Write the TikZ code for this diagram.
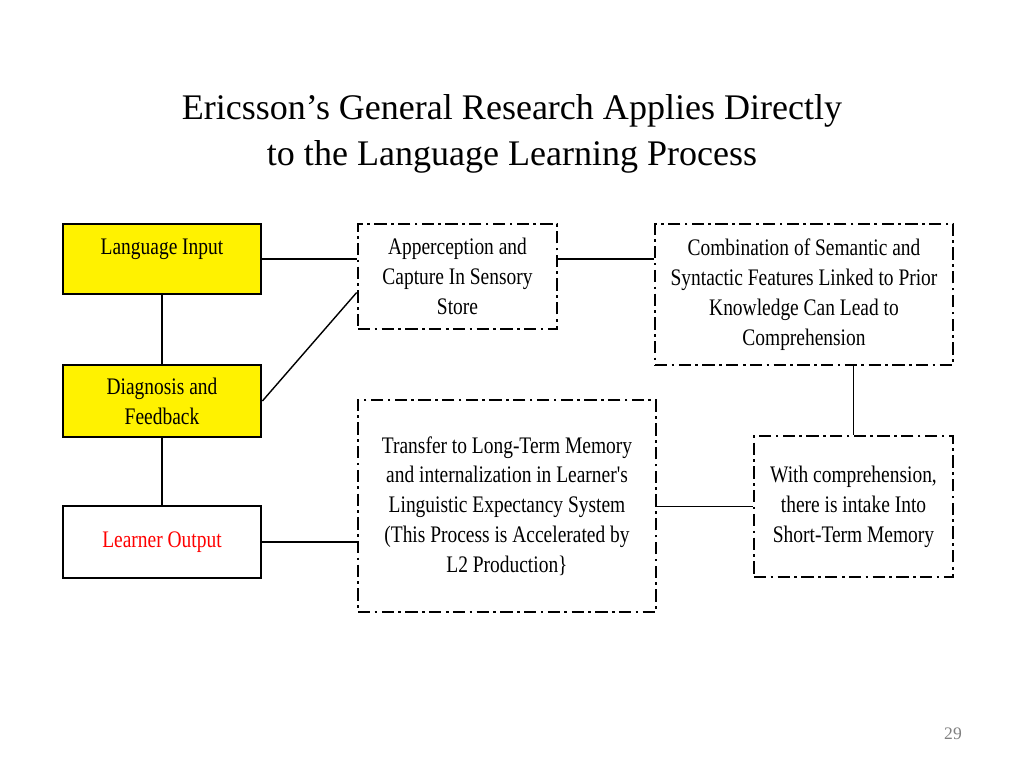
\documentclass[tikz,border=0pt]{standalone}
\usepackage{fontspec}
\setmainfont{Liberation Serif}
\newfontfamily\narrowfont[FakeStretch=0.82]{Liberation Serif}
\usetikzlibrary{calc,positioning}

\begin{document}
\begin{tikzpicture}[x=0.02cm, y=-0.02cm, align=center,
    solidbox/.style={draw, line width=1.6pt, minimum width=3.96cm, font=\narrowfont\fontsize{13.5}{17}\selectfont},
    dashbox/.style={draw, line width=1.5pt, dash pattern=on 7pt off 2.5pt on 1.5pt off 2.5pt, font=\narrowfont\fontsize{13.5}{17}\selectfont},
    link/.style={draw, line width=0.8pt}]
    \useasboundingbox (0,0) rectangle (1024,768);

    \node [font=\fontsize{20.5}{26}\selectfont] (title) at (512,134) {Ericsson’s General Research Applies Directly\\to the Language Learning Process};

    \node [solidbox, fill=yellow, minimum height=1.4cm, text depth=0.5cm] (input) at (162,259) {Language Input};
    \node [solidbox, fill=yellow, minimum height=1.44cm] (diag) at (162,401) {Diagnosis and\\Feedback};
    \node [solidbox, minimum height=1.44cm, text=red] (output) at (162,542) {Learner Output};

    \node [dashbox, minimum width=3.98cm, minimum height=2.1cm] (apper) at (457.5,276.5) {Apperception and\\Capture In Sensory\\Store};
    \node [dashbox, minimum width=5.96cm, minimum height=2.82cm] (combo) at (804,294.5) {Combination of Semantic and\\Syntactic Features Linked to Prior\\Knowledge Can Lead to\\Comprehension};
    \node [dashbox, minimum width=5.96cm, minimum height=4.24cm] (transfer) at (507,506) {Transfer to Long-Term Memory\\and internalization in Learner's\\Linguistic Expectancy System\\(This Process is Accelerated by\\L2 Production\}};
    \node [dashbox, minimum width=3.98cm, minimum height=2.82cm] (intake) at (853.5,506.5) {With comprehension,\\there is intake Into\\Short-Term Memory};

    \draw [link] (input.east) -- (input.east -| apper.west);
    \draw [link] (apper.east |- input.east) -- (combo.west |- input.east);
    \draw [link] (diag.east) -- (apper.-171);
    \draw [link] (input) -- (diag);
    \draw [link] (diag) -- (output);
    \draw [link] (output.east) -- (output.east -| transfer.west);
    \draw [link] (transfer.east |- intake.west) -- (intake.west);
    \draw [link] (combo.south -| intake.north) -- (intake.north);

    \node [text=gray, font=\fontsize{10}{12}\selectfont] (page) at (953,734) {29};
\end{tikzpicture}
\end{document}
